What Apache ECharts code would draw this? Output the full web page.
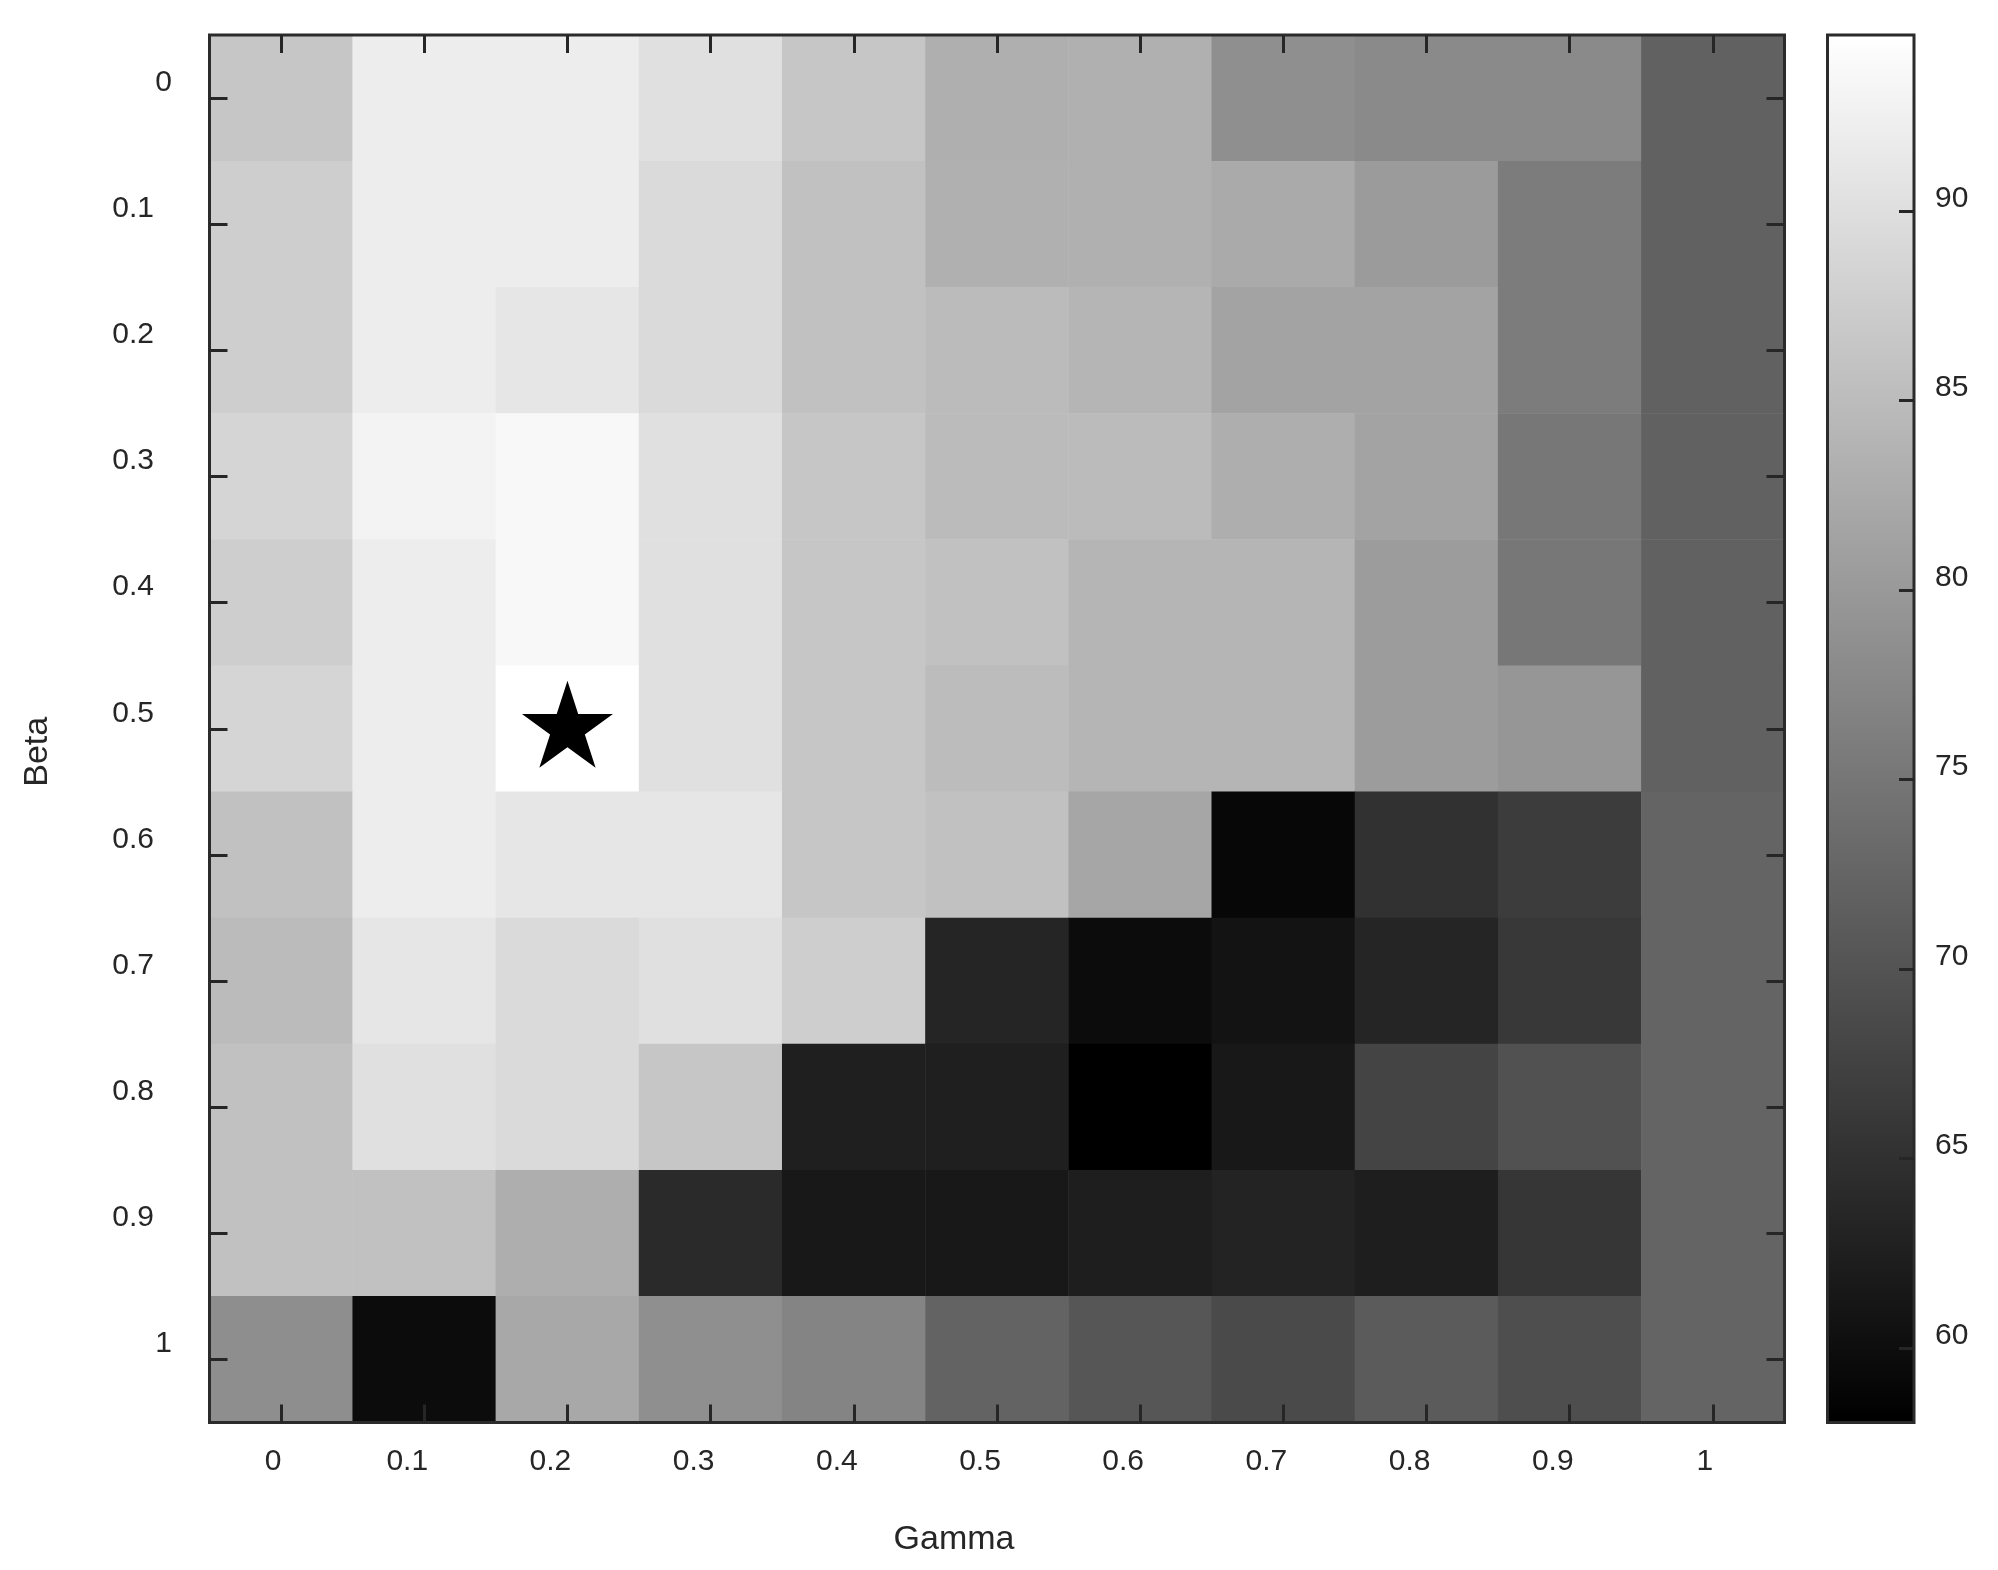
<!DOCTYPE html>
<html>
<head>
<meta charset="utf-8">
<script src="https://cdn.jsdelivr.net/npm/echarts@6/dist/echarts.min.js"></script>
<style>html,body{margin:0;padding:0;background:#fff}#c{width:1998px;height:1570px}</style>
</head>
<body>
<div id="c"></div>
<script>
// ---- data ----
const gammaLabels = ['0','0.1','0.2','0.3','0.4','0.5','0.6','0.7','0.8','0.9','1'];
const betaLabels  = ['0','0.1','0.2','0.3','0.4','0.5','0.6','0.7','0.8','0.9','1'];
// one array per Beta row, values across Gamma 0..1
const beta00 = [86.4, 92.0, 92.0, 90.2, 86.4, 83.1, 83.3, 78.6, 77.9, 77.9, 72.0];
const beta01 = [87.6, 92.0, 92.0, 89.3, 85.7, 83.3, 83.3, 82.4, 80.3, 75.9, 72.0];
const beta02 = [87.6, 92.0, 91.0, 89.3, 85.7, 84.9, 84.0, 81.4, 81.4, 75.9, 72.0];
const beta03 = [88.6, 92.9, 93.7, 90.2, 86.4, 84.9, 84.9, 83.0, 81.4, 75.1, 72.0];
const beta04 = [87.6, 92.0, 93.7, 90.2, 86.4, 85.7, 84.0, 84.0, 80.4, 75.1, 72.0];
const beta05 = [88.6, 92.0, 94.6, 90.2, 86.4, 85.0, 84.0, 84.0, 80.4, 79.6, 72.0];
const beta06 = [85.7, 92.0, 91.0, 91.0, 86.4, 85.7, 81.9, 59.0, 65.0, 66.7, 72.4];
const beta07 = [84.9, 91.0, 89.3, 90.2, 87.6, 63.4, 59.8, 60.7, 63.3, 66.0, 72.4];
const beta08 = [85.7, 90.2, 89.3, 86.4, 62.5, 62.5, 58.1, 61.5, 67.8, 69.7, 72.4];
const beta09 = [85.7, 85.7, 83.0, 64.0, 61.5, 61.5, 62.4, 63.1, 62.4, 65.8, 72.4];
const beta10 = [78.4, 59.8, 82.2, 78.6, 77.0, 72.3, 70.4, 68.6, 71.1, 69.3, 72.4];
const colorMin = 58.03;
const colorMax = 94.64;
const colorTicks = [60, 65, 70, 75, 80, 85, 90];
const bestGamma = '0.2';
const bestBeta = '0.5';

// ---- build ----
const rows = [beta00, beta01, beta02, beta03, beta04, beta05, beta06, beta07, beta08, beta09, beta10];
const heat = [];
rows.forEach((r, yi) => r.forEach((v, xi) => heat.push([xi, yi, v])));

const FONT = '"Liberation Sans", Arial, Helvetica, sans-serif';
const INK = '#262626';
const FRAME = '#2b2b2b';
const LBL = 30;

const tick = (len) => ({show: true, inside: true, length: len, alignWithLabel: true, interval: 0,
  lineStyle: {color: INK, width: 3}});

const starPath = 'path://M0,-100 L22.45,-30.9 L95.1,-30.9 L36.33,11.8 L58.8,80.9 L0,38.2 L-58.8,80.9 L-36.33,11.8 L-95.1,-30.9 L-22.45,-30.9 Z';

const chart = echarts.init(document.getElementById('c'), null, {renderer: 'canvas'});
chart.setOption({
  animation: false,
  backgroundColor: '#ffffff',
  textStyle: {fontFamily: FONT},
  grid: [
    {left: 209.5, top: 35, width: 1575, height: 1387.5, show: true, borderColor: FRAME, borderWidth: 3,
     backgroundColor: 'transparent', z: 10},
    {left: 1827.5, top: 35, width: 86.5, height: 1387.5, show: true, borderColor: FRAME, borderWidth: 3,
     backgroundColor: 'transparent', z: 10}
  ],
  xAxis: [
    {gridIndex: 0, type: 'category', data: gammaLabels, position: 'bottom', z: 11,
     axisLine: {show: false, onZero: false}, axisTick: tick(18), splitLine: {show: false},
     axisLabel: {interval: 0, margin: 24, color: INK, fontSize: LBL, fontFamily: FONT,
       formatter: v => v.length > 1 ? '{m|' + v + '}' : '{s|' + v + '}',
       rich: {m: {fontSize: LBL, color: INK, fontFamily: FONT, padding: [0, 34, 0, 0]},
              s: {fontSize: LBL, color: INK, fontFamily: FONT, padding: [0, 16, 0, 0]}}},
     name: 'Gamma', nameLocation: 'middle', nameGap: 100,
     nameTextStyle: {fontSize: 34, color: INK, fontFamily: FONT, padding: [0, 86, 0, 0]}},
    {gridIndex: 0, type: 'category', data: gammaLabels, position: 'top', z: 11,
     axisLine: {show: false, onZero: false}, axisTick: tick(18), axisLabel: {show: false}, splitLine: {show: false}},
    {gridIndex: 1, type: 'value', min: 0, max: 1, show: false}
  ],
  yAxis: [
    {gridIndex: 0, type: 'category', data: betaLabels, inverse: true, position: 'left', z: 11,
     axisLine: {show: false, onZero: false}, axisTick: tick(18), splitLine: {show: false},
     axisLabel: {interval: 0, margin: 37.5, padding: [0, 0, 31, 0], color: INK, fontSize: LBL, fontFamily: FONT,
       formatter: v => v.length > 1 ? '{m|' + v + '}' : '{s|' + v + '}',
       rich: {m: {fontSize: LBL, color: INK, fontFamily: FONT, padding: [0, 18, 0, 0]},
              s: {fontSize: LBL, color: INK, fontFamily: FONT}}},
     name: 'Beta', nameLocation: 'middle', nameGap: 155,
     nameTextStyle: {fontSize: 34, color: INK, fontFamily: FONT, padding: [0, 46, 0, 0]}},
    {gridIndex: 0, type: 'category', data: betaLabels, inverse: true, position: 'right', z: 11,
     axisLine: {show: false, onZero: false}, axisTick: tick(18), axisLabel: {show: false}, splitLine: {show: false}},
    {gridIndex: 1, type: 'value', min: colorMin, max: colorMax, position: 'right', z: 11,
     axisLine: {show: false, onZero: false}, splitLine: {show: false},
     axisTick: {show: true, inside: true, length: 15, customValues: colorTicks, lineStyle: {color: INK, width: 3}},
     axisLabel: {show: true, customValues: colorTicks, margin: 21, verticalAlign: 'bottom', lineHeight: 25,
       color: INK, fontSize: LBL, fontFamily: FONT}}
  ],
  visualMap: {type: 'continuous', show: false, min: colorMin, max: colorMax, dimension: 2, seriesIndex: 0,
    inRange: {color: ['#000000', '#ffffff']}},
  series: [
    {type: 'heatmap', xAxisIndex: 0, yAxisIndex: 0, data: heat, itemStyle: {borderWidth: 0},
     emphasis: {disabled: true}, progressive: 0},
    {type: 'scatter', xAxisIndex: 0, yAxisIndex: 0, data: [[bestGamma, bestBeta]], z: 5,
     symbol: starPath, symbolSize: [91, 87], symbolOffset: [0, -4.5],
     itemStyle: {color: '#000000', opacity: 1}, emphasis: {disabled: true}},
    {type: 'custom', xAxisIndex: 2, yAxisIndex: 2, data: [[0, colorMin, colorMax]],
     encode: {x: 0, y: [1, 2]},
     renderItem: (params, api) => {
       const top = api.coord([0, api.value(2)]);
       const bot = api.coord([0, api.value(1)]);
       const cs = params.coordSys;
       return {type: 'rect', shape: {x: cs.x, y: top[1], width: cs.width, height: bot[1] - top[1]},
         style: {fill: new echarts.graphic.LinearGradient(0, 0, 0, 1,
           [{offset: 0, color: '#ffffff'}, {offset: 1, color: '#000000'}])}};
     }}
  ]
});
</script>
</body>
</html>
